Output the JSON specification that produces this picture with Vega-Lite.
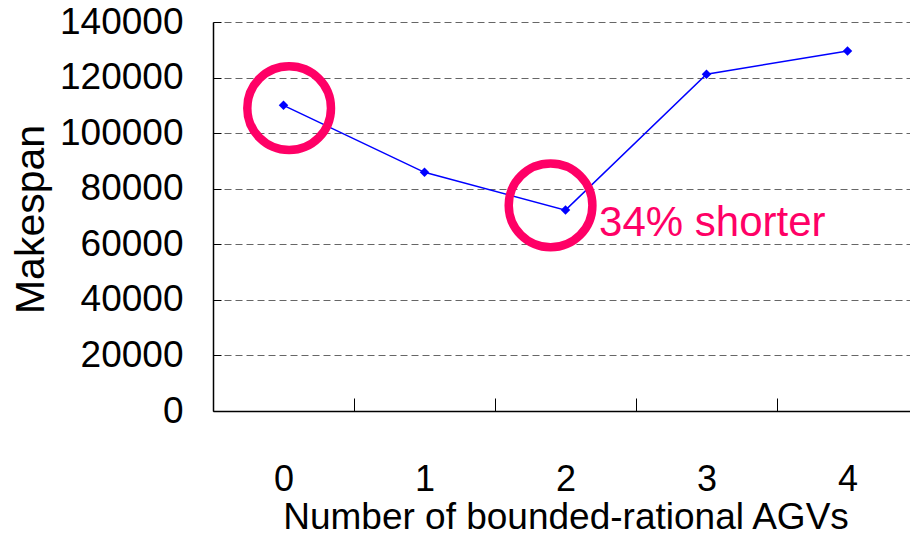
{
  "$schema": "https://vega.github.io/schema/vega-lite/v6.json",
  "width": 705,
  "height": 389,
  "autosize": {"type": "none"},
  "padding": {"left": 213, "top": 22, "right": 0, "bottom": 126},
  "background": "white",
  "config": {"view": {"stroke": null}, "font": "Liberation Sans"},
  "datasets": {
    "series": [
      {"agvs": 0, "makespan": 110000},
      {"agvs": 1, "makespan": 85900},
      {"agvs": 2, "makespan": 72300},
      {"agvs": 3, "makespan": 121200},
      {"agvs": 4, "makespan": 129600}
    ],
    "circles": [
      {"agvs": 0.04, "makespan": 109000},
      {"agvs": 1.894, "makespan": 74000}
    ],
    "note": [
      {"agvs": 2.238, "makespan": 63100, "label": "34% shorter"}
    ]
  },
  "encoding": {
    "x": {
      "field": "agvs",
      "type": "quantitative",
      "scale": {"domain": [-0.5, 4.5], "nice": false, "zero": false},
      "axis": {
        "title": "Number of bounded-rational AGVs",
        "titleFontSize": 37,
        "titleFontWeight": "normal",
        "titleColor": "black",
        "titleX": 352.5,
        "titleY": 117,
        "titleBaseline": "alphabetic",
        "titleAlign": "center",
        "values": [0, 1, 2, 3, 4],
        "format": "d",
        "labelFontSize": 36,
        "labelColor": "black",
        "labelBaseline": "alphabetic",
        "labelPadding": 92,
        "labelFlush": false,
        "labelOverlap": false,
        "tickOffset": 70.5,
        "labelOffset": -70.5,
        "tickSize": -13,
        "tickColor": "black",
        "tickWidth": 1,
        "domainColor": "black",
        "domainWidth": 1.5,
        "grid": false
      }
    },
    "y": {
      "field": "makespan",
      "type": "quantitative",
      "scale": {"domain": [0, 140000], "nice": false},
      "axis": {
        "title": "Makespan",
        "titleFontSize": 41,
        "titleFontWeight": "normal",
        "titleColor": "black",
        "titleX": -170,
        "titleY": 197,
        "titleAngle": -90,
        "titleBaseline": "alphabetic",
        "titleAlign": "center",
        "values": [0, 20000, 40000, 60000, 80000, 100000, 120000, 140000],
        "format": "d",
        "labelFontSize": 37,
        "labelColor": "black",
        "labelBaseline": "middle",
        "labelPadding": 38,
        "labelFlush": false,
        "labelOverlap": false,
        "tickSize": -8,
        "tickColor": "black",
        "tickWidth": 1,
        "domainColor": "black",
        "domainWidth": 1.5,
        "grid": true,
        "gridColor": "#666666",
        "gridDash": [7, 4],
        "gridWidth": 1
      }
    }
  },
  "layer": [
    {
      "data": {"name": "series"},
      "mark": {"type": "line", "color": "#0000FF", "strokeWidth": 1.5}
    },
    {
      "data": {"name": "series"},
      "mark": {"type": "point", "shape": "diamond", "filled": true, "color": "#0000FF", "size": 90, "opacity": 1}
    },
    {
      "data": {"name": "circles"},
      "mark": {"type": "point", "shape": "circle", "filled": false, "stroke": "#FF0066", "strokeWidth": 8.5, "size": 7000, "opacity": 1}
    },
    {
      "data": {"name": "note"},
      "mark": {"type": "text", "color": "#FF0066", "fontSize": 42, "align": "left", "baseline": "alphabetic"},
      "encoding": {"text": {"field": "label"}}
    }
  ]
}
